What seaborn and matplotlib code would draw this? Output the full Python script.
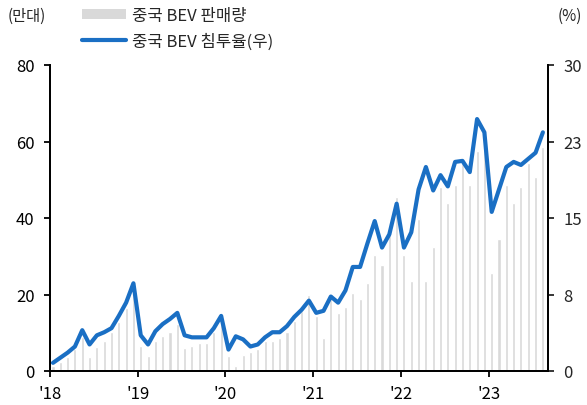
import numpy as np
import pandas as pd
import matplotlib
matplotlib.use("Agg")
import matplotlib.pyplot as plt
import seaborn as sns
from matplotlib.patches import Patch
from matplotlib.lines import Line2D

# monthly, Jan 2018 - Aug 2023
months = [f"{y}-{m:02d}" for y in range(2018, 2024) for m in range(1, 13)][:68]

sales = [1.4, 2.3, 3.7, 5.8, 9.0, 3.7, 6.4, 7.9, 10.1, 12.7,
         16.6, 22.0, 6.5, 3.8, 7.9, 9.2, 10.1, 12.3, 5.9, 6.5,
         7.3, 7.3, 10.1, 12.5, 3.8, 1.2, 4.3, 4.9, 5.8, 7.9,
         7.9, 8.5, 10.1, 13.2, 15.8, 19.8, 14.5, 8.5, 19.3, 15.2,
         16.8, 20.4, 18.8, 23.0, 30.3, 27.7, 35.8, 45.4, 30.3, 23.6,
         39.7, 23.6, 32.5, 48.2, 43.9, 48.6, 54.6, 48.6, 57.6, 62.0,
         25.6, 34.5, 48.6, 43.9, 48.1, 54.4, 50.7, 58.5]

share = [0.8, 1.3, 1.8, 2.4, 4.0, 2.6, 3.5, 3.8, 4.2, 5.4,
         6.7, 8.6, 3.5, 2.6, 3.9, 4.6, 5.1, 5.7, 3.5, 3.3,
         3.3, 3.3, 4.2, 5.4, 2.1, 3.4, 3.1, 2.4, 2.6, 3.3,
         3.8, 3.8, 4.4, 5.3, 6.0, 6.9, 5.7, 5.9, 7.3, 6.7,
         7.9, 10.2, 10.2, 12.5, 14.7, 12.1, 13.4, 16.4, 12.1, 13.6,
         17.8, 20.0, 17.7, 19.2, 18.1, 20.5, 20.6, 19.5, 24.7, 23.4,
         15.6, 17.8, 20.0, 20.5, 20.2, 20.8, 21.4, 23.4]

year_labels = ["'18", "'19", "'20", "'21", "'22", "'23"]
left_ticks = [0, 20, 40, 60, 80]
right_ticks = [0, 7.5, 15, 22.5, 30]
right_labels = ["0", "8", "15", "23", "30"]

df = pd.DataFrame({"month": months, "idx": np.arange(len(months)),
                   "sales": sales, "share": share})

sns.set_style("white")
plt.rcParams["font.family"] = ["Noto Sans CJK KR", "DejaVu Sans"]

bar_color = "#d9d9d9"
line_color = "#1a6fc4"

fig = plt.figure(figsize=(5.87, 4.06), dpi=100)
ax = fig.add_axes([50 / 587, 34 / 406, 498 / 587, 306 / 406])

sns.barplot(data=df, x="idx", y="sales", color=bar_color, width=0.42,
            saturation=1, ax=ax)
ax2 = ax.twinx()
sns.lineplot(data=df, x="idx", y="share", color=line_color, linewidth=3,
             ax=ax2)

ax.set_xlim(-0.41, 67.7)
ax.set_ylim(0, 80)
ax2.set_ylim(0, 30)
ax.set_xticks([12 * k - 0.41 for k in range(6)])
ax.set_xticklabels(year_labels)
ax.set_yticks(left_ticks)
ax2.set_yticks(right_ticks)
ax2.set_yticklabels(right_labels)
ax.set_xlabel("")
ax.set_ylabel("")
ax2.set_ylabel("")

for a in (ax, ax2):
    a.spines["top"].set_visible(False)
    for s in ("left", "right", "bottom"):
        a.spines[s].set_color("black")
        a.spines[s].set_linewidth(1.3)
ax.tick_params(axis="both", direction="out", length=4, width=1.3,
               labelsize=12, colors="black", pad=7)
ax.tick_params(axis="y", left=True)
ax.tick_params(axis="x", bottom=True, pad=6)
ax2.tick_params(axis="y", direction="out", length=4, width=1.3,
                labelsize=12, right=True, pad=7)

fig.text(8 / 587, 1 - 16 / 406, "(만대)", fontsize=11, va="center", ha="left")
fig.text(582 / 587, 1 - 16 / 406, "(%)", fontsize=11, va="center", ha="right")

handles = [Patch(facecolor=bar_color, edgecolor="none"),
           Line2D([0], [0], color=line_color, linewidth=3)]
fig.legend(handles, ["중국 BEV 판매량", "중국 BEV 침투율(우)"],
           loc="upper left", bbox_to_anchor=(72 / 587, 1.005), frameon=False,
           fontsize=12, handlelength=2.65, handleheight=0.5,
           handletextpad=0.35, labelspacing=0.5, borderaxespad=0.2)

fig.savefig("out.png", dpi=100)
